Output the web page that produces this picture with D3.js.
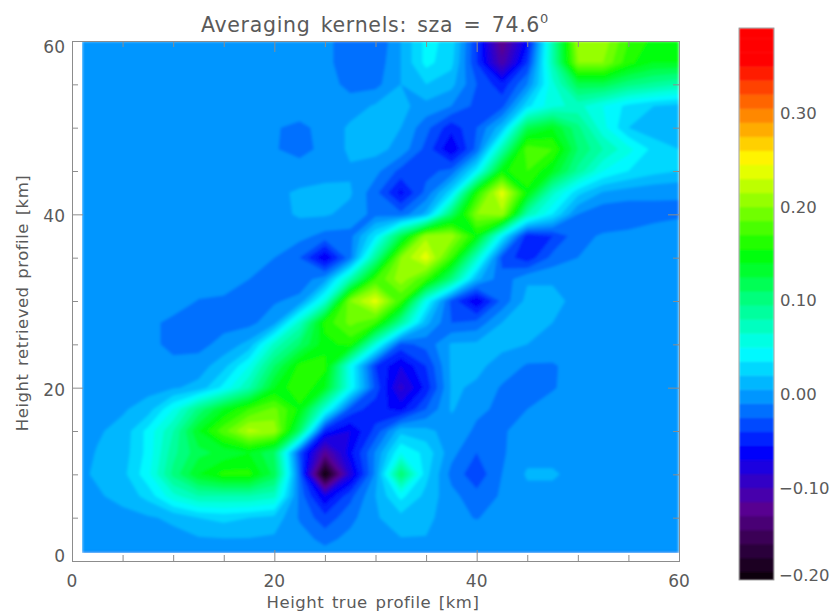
<!DOCTYPE html>
<html>
<head>
<meta charset="utf-8">
<script src="https://cdnjs.cloudflare.com/ajax/libs/d3/7.8.5/d3.min.js"></script>
<style>
  body { margin: 0; background: #fff; }
  text { font-family: "DejaVu Sans", sans-serif; fill: #5a5a5a; }
</style>
</head>
<body>
<script>
// grid heights in km, columns are the true profile, rows the retrieved profile (top row first)
const trueHeights = [1,2.5,5,7.5,10,12.5,15,17.5,20,22.5,25,27.5,30,32.5,35,37.5,40,42.5,45,47.5,50,52.5,55,57.5,60];
const retrievedHeights = [60,57.5,55,52.5,50,47.5,45,42.5,40,37.5,35,32.5,30,27.5,25,22.5,20,17.5,15,12.5,10,7.5,5,2.5,1];

// kernel values in units of 0.01
const row60 = [0,0,0,0,0,0,0,0,0,0,-0.5,-2,-2.5,0.5,4,3,-4,-13,-6,8,21,21,17,15,15];
const row57 = [0,0,0,0,0,0,0,0,0,0,-0.5,-2,-2,0.5,4,2.5,-4,-11,-4,8,20,20,16,14,14];
const row55 = [0,0,0,0,0,0,0,0,0,0,-0.3,-1.5,-1.5,0.5,2,1,-2.5,-5,-1,6,12,12,10,9,8];
const row52 = [0,0,0,0,0,0,0,0,0,-0.3,0,-0.3,0.7,0.8,0,-1,-3,-3,3,6,7,5,3,2,1.5];
const row50 = [0,0,0,0,0,0,0,0,-0.9,-1.3,-0.6,0.8,1,0.5,-2,-5,-2.5,1.5,12,14,10,5.5,2,1,0.8];
const row47 = [0,0,0,0,0,0,0,0,-0.9,-1.5,-0.6,0.8,1,0,-3,-7,-2,8,18,17,11,8,5.5,3,2];
const row45 = [0,0,0,0,0,0,0,0,0,-0.3,0,0.3,-0.5,-3,-3,-2,4,15,17,14,9,5,3.5,2.5,2];
const row42 = [0,0,0,0,0,0,0,0,0.2,0.7,0.9,0.7,-2,-6,-2,3,16,24,15,7,2.5,0.3,-0.3,-0.7,-0.9];
const row40 = [0,0,0,0,0,0,0,0,0,0.7,0.7,0,-1.5,-2,1,11,20,21,8,3.5,-1,-2.2,-2.2,-1.5,-1.2];
const row37 = [0,0,0,0,0,0,0,0,0,-0.5,-1.5,-1.5,3.5,12,21,21,15,4,-5,-4,-1.5,-0.8,-0.5,-0.3,-0.2];
const row35 = [0,0,0,0,0,0,0,-0.3,-1,-2.5,-7,-1.5,9,20,24,17,7,-3,-5,-2,-1,-0.5,-0.3,-0.2,-0.2];
const row32 = [0,0,0,0,0,0,-0.4,-1,-1.5,-2,0,8,17,21,17,10,1,-2,0.3,0.3,0,0,0,0,0];
const row30 = [0,0,0,0,0,-1.1,-1.2,-1.3,-1.2,-0.5,6,20,24,17,5,-3,-7,-2,1,1,0,0,0,0,0];
const row27 = [0,0,0,-0.5,-1.5,-1.5,-1.5,-1.5,0,7,16,19,17,9,1,-2.5,-2,0.5,0.8,0.5,0,0,0,0,0];
const row25 = [0,0,0,-0.5,-1.5,-1.5,-0.5,1,7,11,15,16,6,-3,-2,0.7,0.8,0.8,0.5,0,0,0,0,0,0];
const row22 = [0,0,0,0,-0.5,-0.3,1.5,5,11,16,16,5,-4,-7,-4,0.8,0.8,0,-1.2,-1.2,-0.3,0,0,0,0];
const row20 = [0,0,0,0,0.3,1,4,8,14,17,14,5,-3,-9,-5,0.7,0.3,-1.2,-1.6,-1.2,0,0,0,0,0];
const row17 = [0,0,0.3,1.2,5,10,14,17,19,15,6,-3,-5,-6,-2.5,0.7,-0.8,-1.2,-1,0,0,0,0,0,0];
const row15 = [0,0.3,1,4,8,14,18,22,21,11,-5,-7,-3.5,1.5,1,-0.3,-1.2,-1.2,-0.3,0,0,0,0,0,0];
const row12 = [0,0.6,1.2,4,9,12,13,14,11,-3,-12,-6,-0.8,5,3,-0.5,-2.5,-1.2,0,0,0,0,0,0,0];
const row10 = [0.3,0.7,1.5,4.5,10,14,16,16,12,-2,-20,-8,-0.5,11,2.5,-1.5,-3.5,-1,0.7,0.7,0,0,0,0,0];
const row07 = [0,0.3,1,2.5,6,8,8,8,7,-1.5,-7,-3,0.5,4,1.5,-0.5,-2,-0.8,0,0,0,0,0,0,0];
const row05 = [0,0,0,0.3,0.8,2,2.5,2,1.5,-1.2,-3.5,-1.5,0.3,1.5,1,-0.5,-1.1,-0.3,0,0,0,0,0,0,0];
const row02 = [0,0,0,0,0,0.3,0.4,0.4,0.2,-0.3,-1.5,-0.5,0.2,0.4,0.4,0,0,0,0,0,0,0,0,0,0];
const row01 = [0,0,0,0,0,0,0,0,0,0,-0.5,0,0,0,0,0,0,0,0,0,0,0,0,0,0];
const kernelRows = [row60,row57,row55,row52,row50,row47,row45,row42,row40,row37,row35,row32,row30,row27,row25,row22,row20,row17,row15,row12,row10,row07,row05,row02,row01];

// tick labels
const axisTicks = [0,20,40,60];
const axisMinorTicks = [5,10,15,25,30,35,45,50,55];
const colourbarTicks = [-0.2,-0.1,0,0.1,0.2,0.3];

// colour table, value to colour
const colourValues = [-0.205,-0.17,-0.12,-0.06,-0.0025,0.045,0.10,0.15,0.248,0.30,0.356,0.392];
const colourStops = ["#000000","#2a0035","#5a0096","#0000ff","#0096ff","#00ffff","#00ff82","#00ff00","#ffff00","#ff8200","#ff0000","#ff0000"];

const width = 836;
const height = 613;
const plot = {left: 72, right: 679, top: 41, bottom: 561};
const bar = {left: 739, right: 774, top: 28, bottom: 580};

let svg = d3.select("body").append("svg")
  .attr("width", width)
  .attr("height", height);

const xScale = d3.scaleLinear().domain([0, 60]).range([plot.left, plot.right]);
const yScale = d3.scaleLinear().domain([0, 60]).range([plot.bottom, plot.top]);
const colour = d3.scaleLinear().domain(colourValues).range(colourStops).clamp(true);

// bands of the contour fill
const levels = d3.range(0, 41).map(k => -0.205 + 0.015 * k);

//contour cells are centred on i + 0.5, map those back to km
const gridX = d3.scaleLinear().domain(trueHeights.map((d, i) => i + 0.5)).range(trueHeights).clamp(true);
const gridY = d3.scaleLinear().domain(retrievedHeights.map((d, i) => i + 0.5)).range(retrievedHeights).clamp(true);
const toPlot = d3.geoTransform({
  point: function(x, y) { this.stream.point(xScale(gridX(x)), yScale(gridY(y))); }
});
const path = d3.geoPath(toPlot);

const contours = d3.contours()
  .size([trueHeights.length, retrievedHeights.length])
  .smooth(true)
  .thresholds(levels)(kernelRows.flat().map(v => v / 100));

// the source picture is a soft jpeg
let defs = svg.append("defs");
defs.append("filter").attr("id", "soft")
  .attr("filterUnits", "userSpaceOnUse")
  .attr("x", xScale(1)).attr("y", yScale(60))
  .attr("width", xScale(60) - xScale(1)).attr("height", yScale(1) - yScale(60))
  .append("feGaussianBlur").attr("stdDeviation", 1.7).attr("edgeMode", "duplicate");
defs.append("filter").attr("id", "softbar")
  .attr("filterUnits", "userSpaceOnUse")
  .attr("x", bar.left).attr("y", bar.top)
  .attr("width", bar.right - bar.left).attr("height", bar.bottom - bar.top)
  .append("feGaussianBlur").attr("stdDeviation", 1).attr("edgeMode", "duplicate");

svg.append("g").attr("filter", "url(#soft)")
  .selectAll("path")
  .data(contours)
  .enter().append("path")
    .attr("d", path)
    .attr("fill", d => colour(d.value + 0.0075));

// axes, ticks point inward on all four sides
function drawAxis(axis, transform, ticks, size) {
  let g = svg.append("g").attr("transform", transform)
    .call(axis.tickValues(ticks).tickSize(size).tickFormat(""));
  g.selectAll("path, line").attr("stroke", "#8c8c8c").attr("stroke-width", 1);
  return g;
}
drawAxis(d3.axisTop(xScale), `translate(0,${plot.bottom})`, axisTicks, 11);
drawAxis(d3.axisTop(xScale), `translate(0,${plot.bottom})`, axisMinorTicks, 6);
drawAxis(d3.axisBottom(xScale), `translate(0,${plot.top})`, axisTicks, 11);
drawAxis(d3.axisBottom(xScale), `translate(0,${plot.top})`, axisMinorTicks, 6);
drawAxis(d3.axisRight(yScale), `translate(${plot.left},0)`, axisTicks, 11);
drawAxis(d3.axisRight(yScale), `translate(${plot.left},0)`, axisMinorTicks, 6);
drawAxis(d3.axisLeft(yScale), `translate(${plot.right},0)`, axisTicks, 11);
drawAxis(d3.axisLeft(yScale), `translate(${plot.right},0)`, axisMinorTicks, 6);

// tick labels, the end labels of the y axis sit inside the range like in IDL
svg.append("g").selectAll("text").data(axisTicks).enter().append("text")
  .attr("x", d => xScale(d))
  .attr("y", 587)
  .attr("text-anchor", "middle")
  .style("font-size", "17px")
  .text(d => d);
svg.append("g").selectAll("text").data(axisTicks).enter().append("text")
  .attr("x", 65)
  .attr("y", d => yScale(d) + (d === 0 ? 1 : d === 60 ? 12 : 8))
  .attr("text-anchor", "end")
  .style("font-size", "17px")
  .text(d => d);

// titles
let title = svg.append("text")
  .attr("x", 375).attr("y", 32)
  .attr("text-anchor", "middle")
  .style("font-size", "20.5px")
  .style("letter-spacing", "0.7px")
  .style("word-spacing", "3px");
title.append("tspan").text("Averaging kernels: sza = 74.6");
title.append("tspan").attr("dy", -9).style("font-size", "13px").text("0");

svg.append("text")
  .attr("x", 373).attr("y", 608)
  .attr("text-anchor", "middle")
  .style("font-size", "16.5px")
  .style("letter-spacing", "0.5px")
  .style("word-spacing", "2px")
  .text("Height true profile [km]");

svg.append("text")
  .attr("transform", "translate(28,303) rotate(-90)")
  .attr("text-anchor", "middle")
  .style("font-size", "16.5px")
  .style("letter-spacing", "0.5px")
  .style("word-spacing", "2px")
  .text("Height retrieved profile [km]");

// colour bar
const barScale = d3.scaleLinear().domain([-0.1986, 0.3908]).range([bar.bottom, bar.top]);
svg.append("g").attr("filter", "url(#softbar)")
  .selectAll("rect")
  .data(levels)
  .enter().append("rect")
    .attr("x", bar.left)
    .attr("width", bar.right - bar.left)
    .attr("y", d => Math.max(bar.top, barScale(d + 0.015)))
    .attr("height", d => Math.max(0, Math.min(bar.bottom, barScale(d)) - Math.max(bar.top, barScale(d + 0.015))) + 0.5)
    .attr("fill", d => colour(d + 0.0075));
svg.append("rect")
  .attr("x", bar.left).attr("y", bar.top)
  .attr("width", bar.right - bar.left).attr("height", bar.bottom - bar.top)
  .attr("fill", "none").attr("stroke", "#8c8c8c").attr("stroke-width", 0.8);

const barFormat = d3.format(".2f");
svg.append("g").selectAll("text").data(colourbarTicks).enter().append("text")
  .attr("x", d => d < 0 ? 779 : 780)
  .attr("y", d => Math.min(barScale(d), 575) + 6)
  .style("font-size", "16.5px")
  .text(d => barFormat(d));
</script>
</body>
</html>
